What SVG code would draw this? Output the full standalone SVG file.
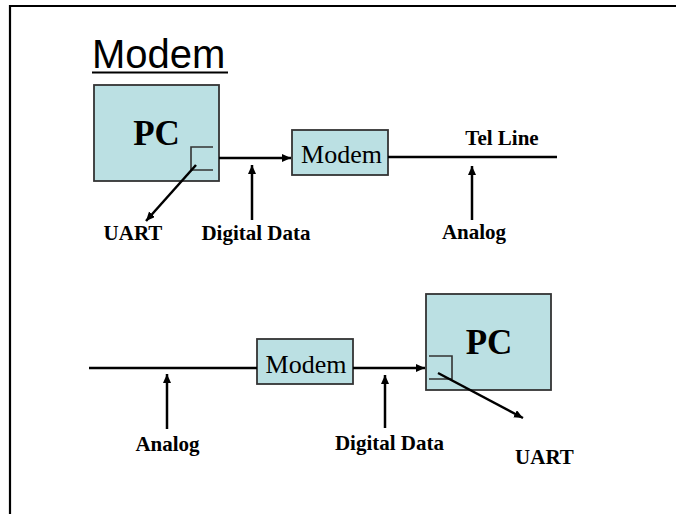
<svg xmlns="http://www.w3.org/2000/svg" width="676" height="514" viewBox="0 0 676 514">
<style>
.box{fill:#BBE0E3;stroke:#333333;stroke-width:1.8}
.port{fill:none;stroke:#333333;stroke-width:1.6}
.wire{stroke:#000000;stroke-width:2.5;fill:none}
.lbl{font-family:"Liberation Serif","Times New Roman",serif;font-weight:bold;font-size:21px;fill:#000;text-anchor:middle}
.pc{font-family:"Liberation Serif","Times New Roman",serif;font-weight:bold;font-size:35px;fill:#000;text-anchor:middle}
.mod{font-family:"Liberation Serif","Times New Roman",serif;font-size:26px;fill:#000;text-anchor:middle}
</style>
<defs>
<marker id="ah" markerUnits="userSpaceOnUse" markerWidth="10" markerHeight="9" refX="9" refY="4" orient="auto">
<path d="M0,0 L9,4 L0,8 z" fill="#000"/>
</marker>
</defs>
<rect width="676" height="514" fill="#fff"/>
<path d="M676,6 H10 V514" fill="none" stroke="#000" stroke-width="2.2"/>
<g id="title">
<text x="92" y="68" font-family="'Liberation Sans',Arial,sans-serif" font-size="40" fill="#000">Modem</text>
<line x1="92" y1="72.5" x2="228" y2="72.5" stroke="#000" stroke-width="2"/>
</g>
<g id="pc1">
<rect class="box" x="94" y="85" width="125" height="96"/>
<text class="pc" x="156.5" y="145">PC</text>
<path class="port" d="M213,147 H191 V170 H213"/>
</g>
<g id="modem1">
<rect class="box" x="292" y="130" width="96" height="45"/>
<text class="mod" x="341.5" y="163">Modem</text>
</g>
<g id="modem2">
<rect class="box" x="257" y="339" width="96" height="45"/>
<text class="mod" x="306" y="373">Modem</text>
</g>
<g id="pc2">
<rect class="box" x="426" y="294" width="125" height="96"/>
<text class="pc" x="489" y="354">PC</text>
<path class="port" d="M429,356 H452 V379 H429"/>
</g>
<g id="connectors">
<line class="wire" x1="219" y1="158" x2="291" y2="158" marker-end="url(#ah)"/>
<line class="wire" x1="252" y1="220" x2="252" y2="165" marker-end="url(#ah)"/>
<line class="wire" x1="196" y1="165" x2="146" y2="221" marker-end="url(#ah)"/>
<line class="wire" x1="388" y1="157" x2="557" y2="157"/>
<line class="wire" x1="472" y1="220" x2="472" y2="166" marker-end="url(#ah)"/>
<line class="wire" x1="89" y1="368" x2="257" y2="368"/>
<line class="wire" x1="167" y1="429" x2="167" y2="374" marker-end="url(#ah)"/>
<line class="wire" x1="353" y1="368" x2="425" y2="368" marker-end="url(#ah)"/>
<line class="wire" x1="385" y1="428" x2="385" y2="375" marker-end="url(#ah)"/>
<line class="wire" x1="438" y1="373" x2="523" y2="418" marker-end="url(#ah)"/>
</g>
<g id="labels">
<text class="lbl" x="502" y="145">Tel Line</text>
<text class="lbl" x="133" y="240">UART</text>
<text class="lbl" x="256" y="240">Digital Data</text>
<text class="lbl" x="474" y="239">Analog</text>
<text class="lbl" x="167.5" y="451">Analog</text>
<text class="lbl" x="389.5" y="450">Digital Data</text>
<text class="lbl" x="544.5" y="464">UART</text>
</g>
</svg>
